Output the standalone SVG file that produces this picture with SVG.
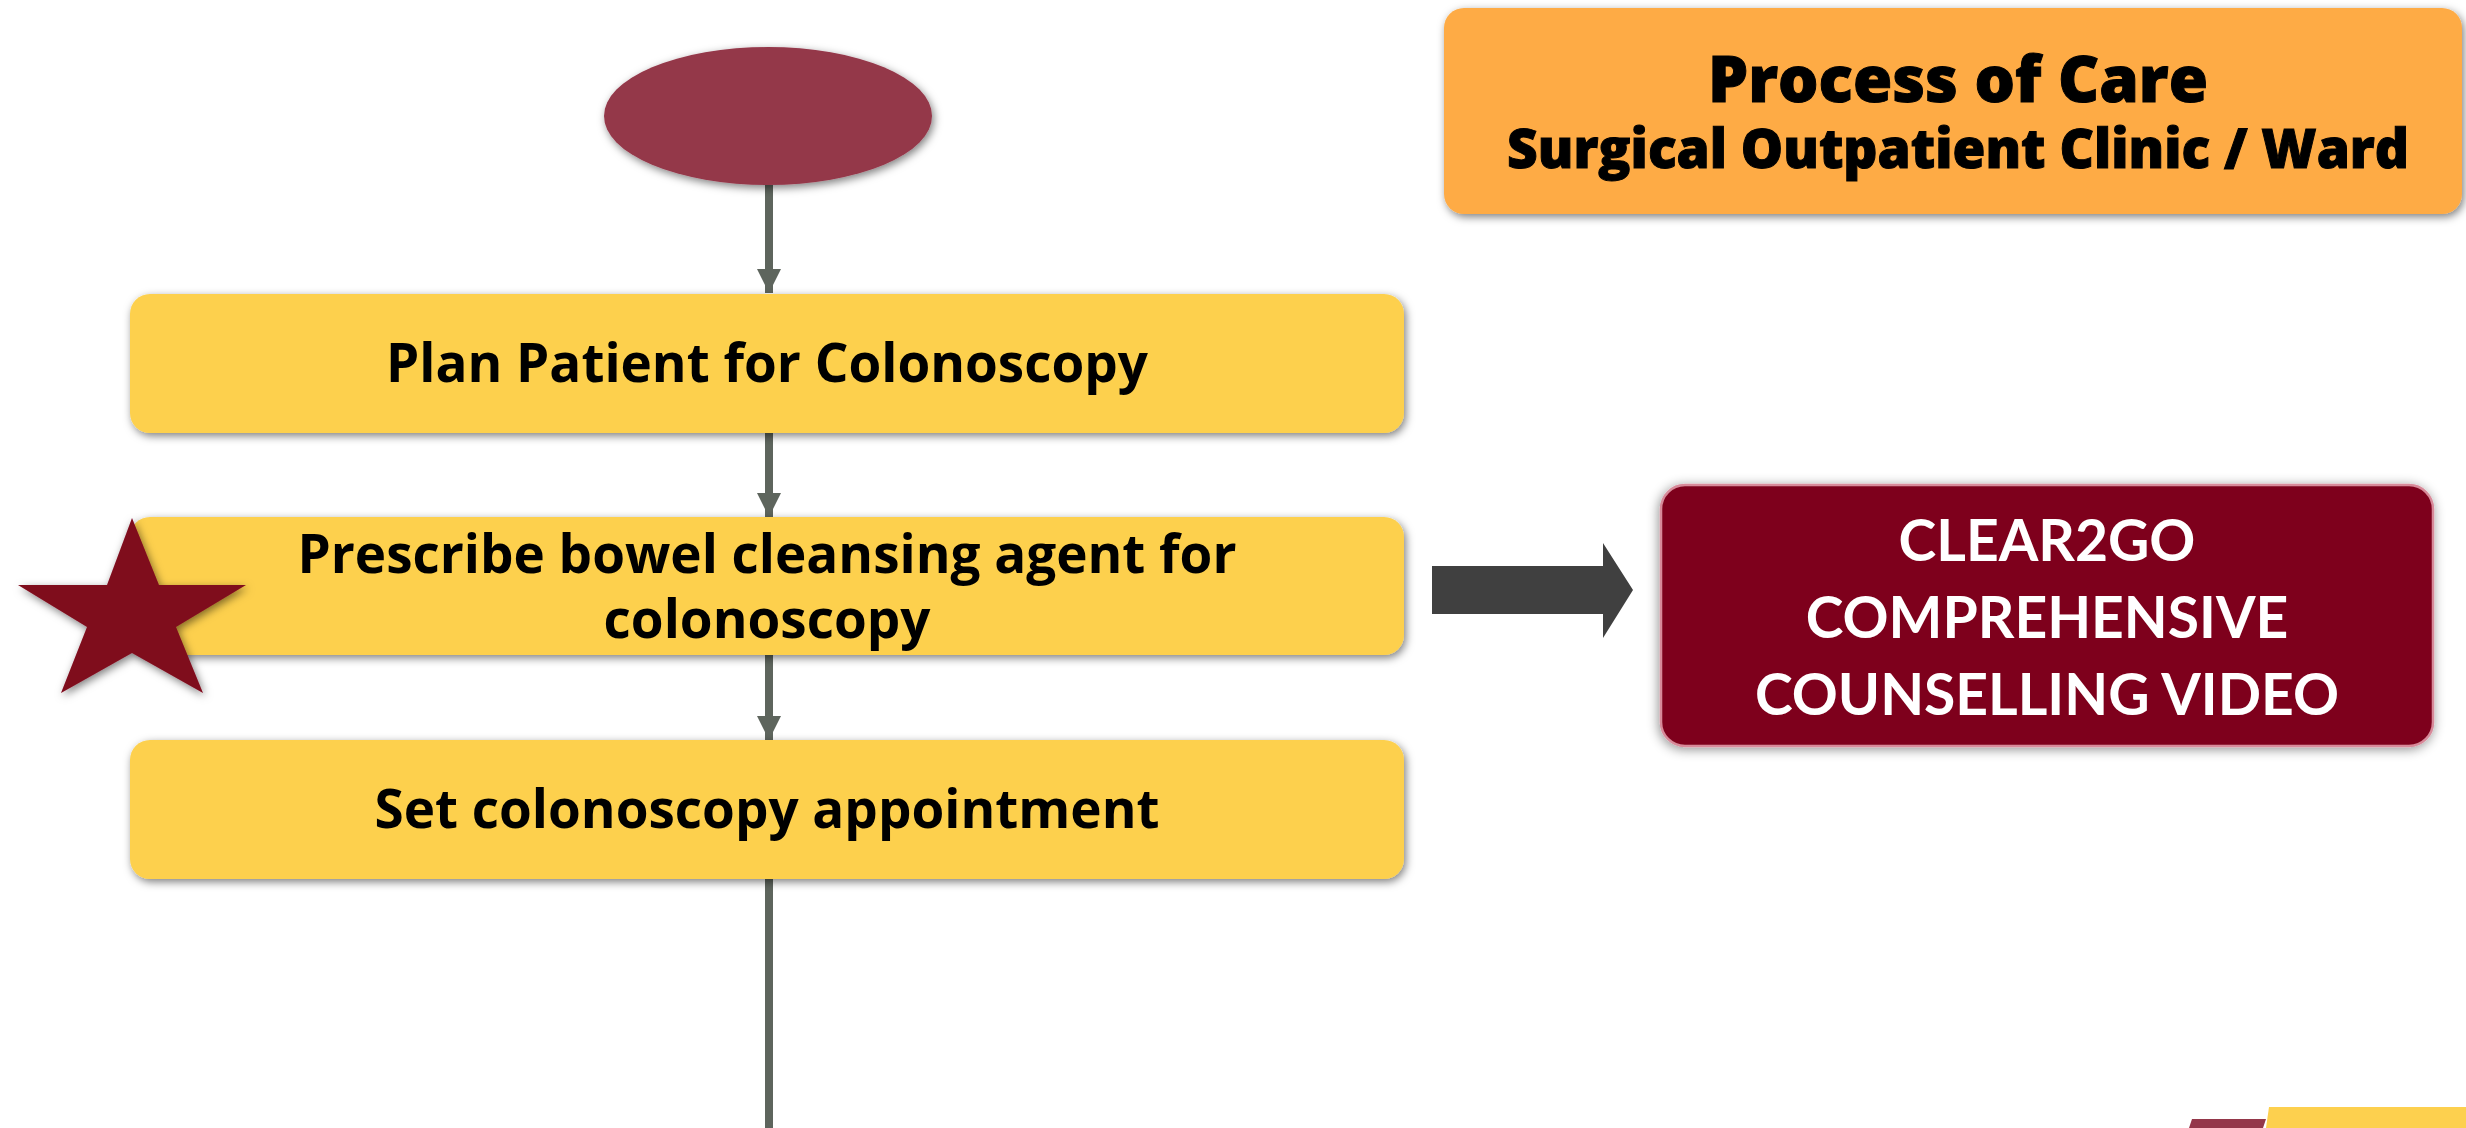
<svg xmlns="http://www.w3.org/2000/svg" width="2466" height="1128" viewBox="0 0 2466 1128">
  <defs>
    <filter id="shadow" x="-10%" y="-20%" width="120%" height="145%">
      <feDropShadow dx="2" dy="3" stdDeviation="4" flood-color="#000" flood-opacity="0.5"/>
    </filter>
    <filter id="softShadow" x="-10%" y="-20%" width="120%" height="145%">
      <feDropShadow dx="-1" dy="2" stdDeviation="6" flood-color="#000" flood-opacity="0.45"/>
    </filter>
    <marker id="arrowhead" viewBox="0 0 24 24" markerWidth="24" markerHeight="24" refX="24" refY="12" orient="auto" markerUnits="userSpaceOnUse">
      <path d="M0,0 L24,12 L0,24 Z" fill="#5E655D"/>
    </marker>
  </defs>
  <style>
    .step { fill: #FDD04E; filter: url(#shadow); }
    .stepText { font-family: "Open Sans", "Noto Sans", sans-serif; font-weight: 700; font-size: 53px; fill: #000; text-anchor: middle; }
    .head { font-family: "Open Sans", "Noto Sans", sans-serif; font-weight: 800; fill: #000; stroke: #000; stroke-width: 1; text-anchor: middle; }
    .videoText { font-family: Lato, "Liberation Sans", sans-serif; font-weight: 700; font-size: 57px; fill: #fff; text-anchor: middle; }
    .flow { stroke: #5E655D; stroke-width: 8; fill: none; }
  </style>

  <rect width="2466" height="1128" fill="#ffffff"/>

  <!-- connectors -->
  <g id="connectors">
    <line class="flow" x1="769" y1="185" x2="769" y2="293" marker-end="url(#arrowhead)"/>
    <line class="flow" x1="769" y1="433" x2="769" y2="517" marker-end="url(#arrowhead)"/>
    <line class="flow" x1="769" y1="655" x2="769" y2="740" marker-end="url(#arrowhead)"/>
    <line class="flow" x1="769" y1="878" x2="769" y2="1128"/>
    <polygon id="to-video" points="1432,566 1603,566 1603,543 1633,590 1603,638 1603,614 1432,614" fill="#404040"/>
  </g>

  <!-- start terminal -->
  <g id="start">
    <ellipse cx="768" cy="116" rx="164" ry="69" fill="#94374A" filter="url(#shadow)"/>
  </g>

  <!-- header -->
  <g id="header">
    <rect x="1444" y="8" width="1018" height="206" rx="20" fill="#FEAB45" filter="url(#shadow)"/>
    <text class="head" x="1958" y="102" font-size="64" textLength="500" lengthAdjust="spacingAndGlyphs">Process of Care</text>
    <text class="head" x="1958" y="168" font-size="54" textLength="902" lengthAdjust="spacingAndGlyphs">Surgical Outpatient Clinic / Ward</text>
  </g>

  <!-- process steps -->
  <g id="plan">
    <rect class="step" x="130" y="294" width="1274" height="139" rx="20"/>
    <text class="stepText" x="767" y="382">Plan Patient for Colonoscopy</text>
  </g>

  <g id="prescribe">
    <rect class="step" x="130" y="517" width="1274" height="138" rx="20"/>
    <text class="stepText" x="767" y="573">Prescribe bowel cleansing agent for</text>
    <text class="stepText" x="767" y="638">colonoscopy</text>
  </g>

  <g id="appointment">
    <rect class="step" x="130" y="740" width="1274" height="139" rx="20"/>
    <text class="stepText" x="767" y="828">Set colonoscopy appointment</text>
  </g>

  <!-- key step marker -->
  <g id="star">
    <polygon points="132,518 159,585 246,585 176,627 203,693 132,653 61,693 87,627 18,585 107,585" fill="#7F0A1E" filter="url(#shadow)"/>
  </g>

  <!-- video resource -->
  <g id="video">
    <rect x="1661" y="485" width="772" height="261" rx="24" fill="#7E051D" stroke="#D88A9A" stroke-width="2.5" filter="url(#softShadow)"/>
    <text class="videoText" x="2047" y="561">CLEAR2GO</text>
    <text class="videoText" x="2047" y="638">COMPREHENSIVE</text>
    <text class="videoText" x="2047" y="715">COUNSELLING VIDEO</text>
  </g>

  <!-- corner bands -->
  <g id="corner">
    <polygon points="2192,1119 2266,1119 2263,1128 2189,1128" fill="#94374A"/>
    <polygon points="2269,1107 2466,1107 2466,1128 2266,1128" fill="#FDD04E"/>
  </g>
</svg>
